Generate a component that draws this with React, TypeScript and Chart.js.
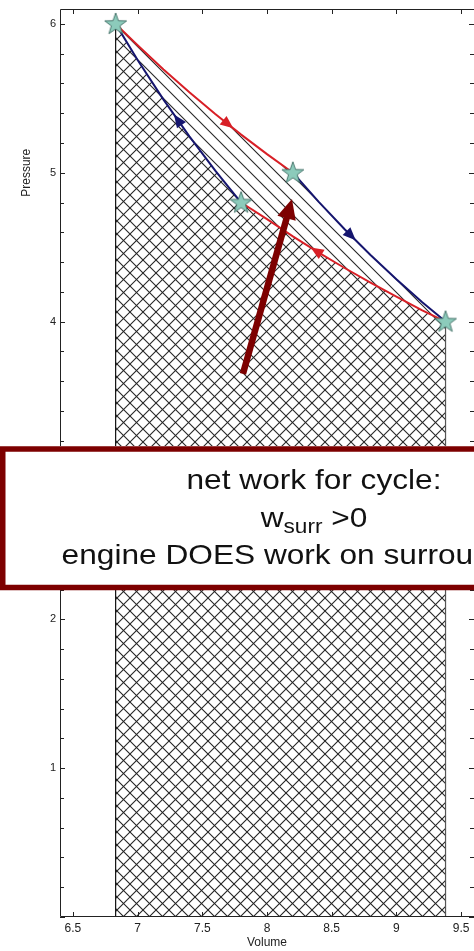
import React, { useEffect, useRef } from "react";
import { Chart, registerables } from "chart.js";

Chart.register(...registerables);

// Axis tick values
const VOLUME_TICKS = [6.5, 7, 7.5, 8, 8.5, 9, 9.5];
const PRESSURE_TICKS = [1, 2, 3, 4, 5, 6];

// Leg 1: isothermal expansion at the hot temperature, A -> C
const HOT_V = [6.83, 7.0, 7.2, 7.4, 7.6, 7.8, 8.0, 8.2];
const HOT_P = [6.0, 5.857, 5.694, 5.541, 5.395, 5.256, 5.125, 5.0];
// Leg 2: adiabatic expansion, C -> D
const ADIA_OUT_V = [8.2, 8.4, 8.6, 8.8, 9.0, 9.2, 9.38];
const ADIA_OUT_P = [5.0, 4.804, 4.62, 4.447, 4.284, 4.13, 4.0];
// Leg 3: isothermal compression at the cold temperature, D -> B
const COLD_V = [9.38, 9.2, 9.0, 8.8, 8.6, 8.4, 8.2, 8.0, 7.8];
const COLD_P = [4.0, 4.076, 4.167, 4.261, 4.36, 4.464, 4.573, 4.688, 4.8];
// Leg 4: adiabatic compression, B -> A
const ADIA_IN_V = [7.8, 7.6, 7.4, 7.2, 7.0, 6.83];
const ADIA_IN_P = [4.8, 5.014, 5.244, 5.491, 5.757, 6.0];

// Cycle states A, B, C, D
const STATE_V = [6.83, 7.8, 8.2, 9.38];
const STATE_P = [6.0, 4.8, 5.0, 4.0];

// Volume at which each leg carries its direction arrowhead (legs 1..4)
const ARROWHEAD_V = [7.7, 8.65, 8.38, 7.31];

// Pointer arrow into the enclosed area (volume, pressure)
const POINTER_FROM = [7.814, 3.648];
const POINTER_TO = [8.193, 4.824];

const RED = "#d81f26";
const NAVY = "#15156e";
const MAROON = "#7d0000";
const FONT = "'Liberation Sans', Arial, Helvetica, sans-serif";

type Pt = { x: number; y: number };
const zip = (xs: number[], ys: number[]): Pt[] => xs.map((v, i) => ({ x: v, y: ys[i] }));

const LEGS: Pt[][] = [
  zip(HOT_V, HOT_P),
  zip(ADIA_OUT_V, ADIA_OUT_P),
  zip(COLD_V, COLD_P),
  zip(ADIA_IN_V, ADIA_IN_P),
];

function makeStar(): HTMLCanvasElement {
  const c = document.createElement("canvas");
  c.width = 26;
  c.height = 26;
  const g = c.getContext("2d")!;
  const cx = 13, cy = 13.5, ro = 11.5, ri = 4.6;
  g.beginPath();
  for (let i = 0; i < 10; i++) {
    const r = i % 2 === 0 ? ro : ri;
    const a = -Math.PI / 2 + (i * Math.PI) / 5;
    const px = cx + r * Math.cos(a);
    const py = cy + r * Math.sin(a);
    if (i === 0) g.moveTo(px, py);
    else g.lineTo(px, py);
  }
  g.closePath();
  g.fillStyle = "#8ccbbb";
  g.fill();
  g.strokeStyle = "#3f6d64";
  g.lineWidth = 0.9;
  g.stroke();
  return c;
}

function hatch(
  ctx: CanvasRenderingContext2D,
  poly: number[][],
  dir: number,
  step: number
) {
  const xs = poly.map((p) => p[0]);
  const ys = poly.map((p) => p[1]);
  const l = Math.min(...xs), r = Math.max(...xs);
  const t = Math.min(...ys), b = Math.max(...ys);
  ctx.save();
  ctx.beginPath();
  poly.forEach((p, i) => (i === 0 ? ctx.moveTo(p[0], p[1]) : ctx.lineTo(p[0], p[1])));
  ctx.closePath();
  ctx.clip();
  ctx.beginPath();
  if (dir > 0) {
    // lines y = x + c (running down to the right)
    const c0 = Math.floor((t - r) / step) * step;
    for (let c = c0; c <= b - l + step; c += step) {
      ctx.moveTo(l - 2, l - 2 + c);
      ctx.lineTo(r + 2, r + 2 + c);
    }
  } else {
    // lines y = -x + c (running up to the right)
    const c0 = Math.floor((t + l) / step) * step;
    for (let c = c0; c <= b + r + step; c += step) {
      ctx.moveTo(l - 2, -(l - 2) + c);
      ctx.lineTo(r + 2, -(r + 2) + c);
    }
  }
  ctx.strokeStyle = "#262626";
  ctx.lineWidth = 1.1;
  ctx.stroke();
  ctx.restore();
}

const cyclePlugin = {
  id: "cycleDecor",
  beforeDatasetsDraw(chart: any) {
    const { ctx, scales } = chart;
    const xs = scales.x, ys = scales.y;
    const toPx = (p: Pt) => [xs.getPixelForValue(p.x), ys.getPixelForValue(p.y)];
    const base = ys.getPixelForValue(0);
    const xl = xs.getPixelForValue(STATE_V[0]);
    const xr = xs.getPixelForValue(STATE_V[3]);

    // upper path A -> C -> D, lower path A -> B -> D
    const upper = [...LEGS[0], ...LEGS[1].slice(1)].map(toPx);
    const lower = [...LEGS[3].slice().reverse(), ...LEGS[2].slice().reverse().slice(1)].map(toPx);

    hatch(ctx, [...upper, [xr, base], [xl, base]], 1, 13);
    hatch(ctx, [...lower, [xr, base], [xl, base]], -1, 13);

    ctx.save();
    ctx.lineWidth = 1.2;
    ctx.strokeStyle = "#111";
    ctx.beginPath();
    ctx.moveTo(xl, ys.getPixelForValue(STATE_P[0]));
    ctx.lineTo(xl, base);
    ctx.stroke();
    ctx.strokeStyle = "#555";
    ctx.beginPath();
    ctx.moveTo(xr, ys.getPixelForValue(STATE_P[3]));
    ctx.lineTo(xr, base);
    ctx.stroke();
    ctx.restore();
  },
  afterDatasetsDraw(chart: any) {
    const { ctx, scales, chartArea } = chart;
    const xs = scales.x, ys = scales.y;
    const toPx = (p: Pt) => [xs.getPixelForValue(p.x), ys.getPixelForValue(p.y)];

    // direction arrowheads on each leg
    LEGS.forEach((leg, li) => {
      const v = ARROWHEAD_V[li];
      for (let i = 0; i < leg.length - 1; i++) {
        const a = leg[i], b = leg[i + 1];
        const lo = Math.min(a.x, b.x), hi = Math.max(a.x, b.x);
        if (v >= lo && v <= hi) {
          const f = (v - a.x) / (b.x - a.x);
          const pa = toPx(a), pb = toPx(b);
          const cx = pa[0] + f * (pb[0] - pa[0]);
          const cy = pa[1] + f * (pb[1] - pa[1]);
          const ang = Math.atan2(pb[1] - pa[1], pb[0] - pa[0]);
          const len = 13, half = 5.5;
          const c = Math.cos(ang), s = Math.sin(ang);
          ctx.save();
          ctx.beginPath();
          ctx.moveTo(cx + (len / 2) * c, cy + (len / 2) * s);
          ctx.lineTo(cx - (len / 2) * c - half * s, cy - (len / 2) * s + half * c);
          ctx.lineTo(cx - (len / 2) * c + half * s, cy - (len / 2) * s - half * c);
          ctx.closePath();
          ctx.fillStyle = li % 2 === 0 ? RED : NAVY;
          ctx.fill();
          ctx.restore();
          break;
        }
      }
    });

    // axes box with inward ticks
    const { left, right, top, bottom } = chartArea;
    ctx.save();
    ctx.strokeStyle = "#222";
    ctx.lineWidth = 1;
    ctx.beginPath();
    ctx.rect(left + 0.5, top + 0.5, right - left, bottom - top - 1);
    ctx.stroke();
    ctx.beginPath();
    VOLUME_TICKS.forEach((v) => {
      const x = Math.round(xs.getPixelForValue(v)) + 0.5;
      ctx.moveTo(x, bottom);
      ctx.lineTo(x, bottom - 5);
      ctx.moveTo(x, top);
      ctx.lineTo(x, top + 5);
    });
    for (let k = 0; k <= 30; k++) {
      const p = k / 5;
      const y = Math.round(ys.getPixelForValue(p)) + 0.5;
      const len = k % 5 === 0 ? 5 : 4;
      ctx.moveTo(left, y);
      ctx.lineTo(left + len, y);
      ctx.moveTo(right, y);
      ctx.lineTo(right - len, y);
    }
    ctx.stroke();

    // rotated axis title
    ctx.fillStyle = "#222";
    ctx.font = `12px ${FONT}`;
    ctx.textAlign = "center";
    ctx.textBaseline = "middle";
    ctx.translate(left - 33, ys.getPixelForValue(5));
    ctx.rotate(-Math.PI / 2);
    ctx.fillText("Pressure", 0, 0);
    ctx.restore();

    // pointer arrow
    const [fx, fy] = toPx({ x: POINTER_FROM[0], y: POINTER_FROM[1] });
    const [tx, ty] = toPx({ x: POINTER_TO[0], y: POINTER_TO[1] });
    const ang = Math.atan2(ty - fy, tx - fx);
    const c = Math.cos(ang), s = Math.sin(ang);
    const headLen = 20, headHalf = 9.5;
    const bx = tx - headLen * c, by = ty - headLen * s;
    ctx.save();
    ctx.strokeStyle = MAROON;
    ctx.fillStyle = MAROON;
    ctx.lineWidth = 6.5;
    ctx.beginPath();
    ctx.moveTo(fx, fy);
    ctx.lineTo(bx + 2 * c, by + 2 * s);
    ctx.stroke();
    ctx.beginPath();
    ctx.moveTo(tx, ty);
    ctx.lineTo(bx - headHalf * s, by + headHalf * c);
    ctx.lineTo(bx + headHalf * s, by - headHalf * c);
    ctx.closePath();
    ctx.fill();
    ctx.restore();

    // callout box
    ctx.save();
    ctx.fillStyle = "#fff";
    ctx.fillRect(0, 446, 520, 144);
    ctx.strokeStyle = MAROON;
    ctx.lineWidth = 5.5;
    ctx.strokeRect(2.75, 449, 520, 138.5);

    ctx.fillStyle = "#111";
    ctx.translate(314, 0);
    ctx.scale(1.13, 1);
    ctx.textBaseline = "alphabetic";
    ctx.textAlign = "center";
    const big = `28px ${FONT}`;
    const small = `20px ${FONT}`;
    ctx.font = big;
    ctx.fillText("net work for cycle:", 0, 489);
    ctx.fillText("engine DOES work on surroundings", 0, 564);

    ctx.textAlign = "left";
    ctx.font = big;
    const ww = ctx.measureText("w").width;
    const wg = ctx.measureText(" >0").width;
    ctx.font = small;
    const wsub = ctx.measureText("surr").width;
    let x0 = -(ww + wsub + wg) / 2;
    ctx.font = big;
    ctx.fillText("w", x0, 527);
    x0 += ww;
    ctx.font = small;
    ctx.fillText("surr", x0, 533);
    x0 += wsub;
    ctx.font = big;
    ctx.fillText(" >0", x0, 527);
    ctx.restore();
  },
};

export default function App() {
  const ref = useRef<HTMLCanvasElement>(null);

  useEffect(() => {
    if (!ref.current) return;
    const star = makeStar();
    const legColors = [RED, NAVY, RED, NAVY];
    const chart = new Chart(ref.current, {
      type: "scatter",
      data: {
        datasets: [
          {
            label: "states",
            data: zip(STATE_V, STATE_P),
            pointStyle: star as any,
            pointRadius: 11,
            showLine: false,
          },
          ...LEGS.map((leg, i) => ({
            label: `leg ${i + 1}`,
            data: leg,
            showLine: true,
            borderColor: legColors[i],
            borderWidth: 2,
            pointRadius: 0,
            tension: 0,
          })),
        ],
      },
      options: {
        animation: false,
        responsive: false,
        events: [],
        layout: { autoPadding: false, padding: { top: 9, left: 0, right: 0, bottom: 0 } },
        plugins: { legend: { display: false }, tooltip: { enabled: false } },
        scales: {
          x: {
            type: "linear",
            position: "bottom",
            min: 6.4,
            max: 9.6,
            grid: { display: false, drawTicks: false },
            border: { display: false },
            afterBuildTicks: (scale: any) => {
              scale.ticks = VOLUME_TICKS.map((v) => ({ value: v }));
            },
            afterFit: (scale: any) => {
              scale.height = 34;
              scale.paddingLeft = 0;
              scale.paddingRight = 0;
            },
            ticks: {
              callback: (v: any) => String(v),
              font: { family: FONT, size: 12 },
              color: "#222",
              padding: 4,
              maxRotation: 0,
              autoSkip: false,
            },
            title: {
              display: true,
              text: "Volume",
              font: { family: FONT, size: 12 },
              color: "#222",
              padding: { top: 0, bottom: 1 },
            },
          },
          y: {
            type: "linear",
            position: "left",
            min: 0,
            max: 6.1,
            grid: { display: false, drawTicks: false },
            border: { display: false },
            afterBuildTicks: (scale: any) => {
              scale.ticks = PRESSURE_TICKS.map((v) => ({ value: v }));
            },
            afterFit: (scale: any) => {
              scale.width = 60;
              scale.paddingTop = 0;
              scale.paddingBottom = 0;
            },
            ticks: {
              callback: (v: any) => String(v),
              font: { family: FONT, size: 11 },
              color: "#222",
              padding: 4,
              autoSkip: false,
            },
          },
        },
      },
      plugins: [cyclePlugin],
    });
    return () => chart.destroy();
  }, []);

  return (
    <div
      style={{
        position: "fixed",
        left: 0,
        top: 0,
        width: 474,
        height: 951,
        overflow: "hidden",
        background: "#fff",
      }}
    >
      <canvas ref={ref} width={474} height={951} style={{ width: 474, height: 951, display: "block" }} />
    </div>
  );
}
